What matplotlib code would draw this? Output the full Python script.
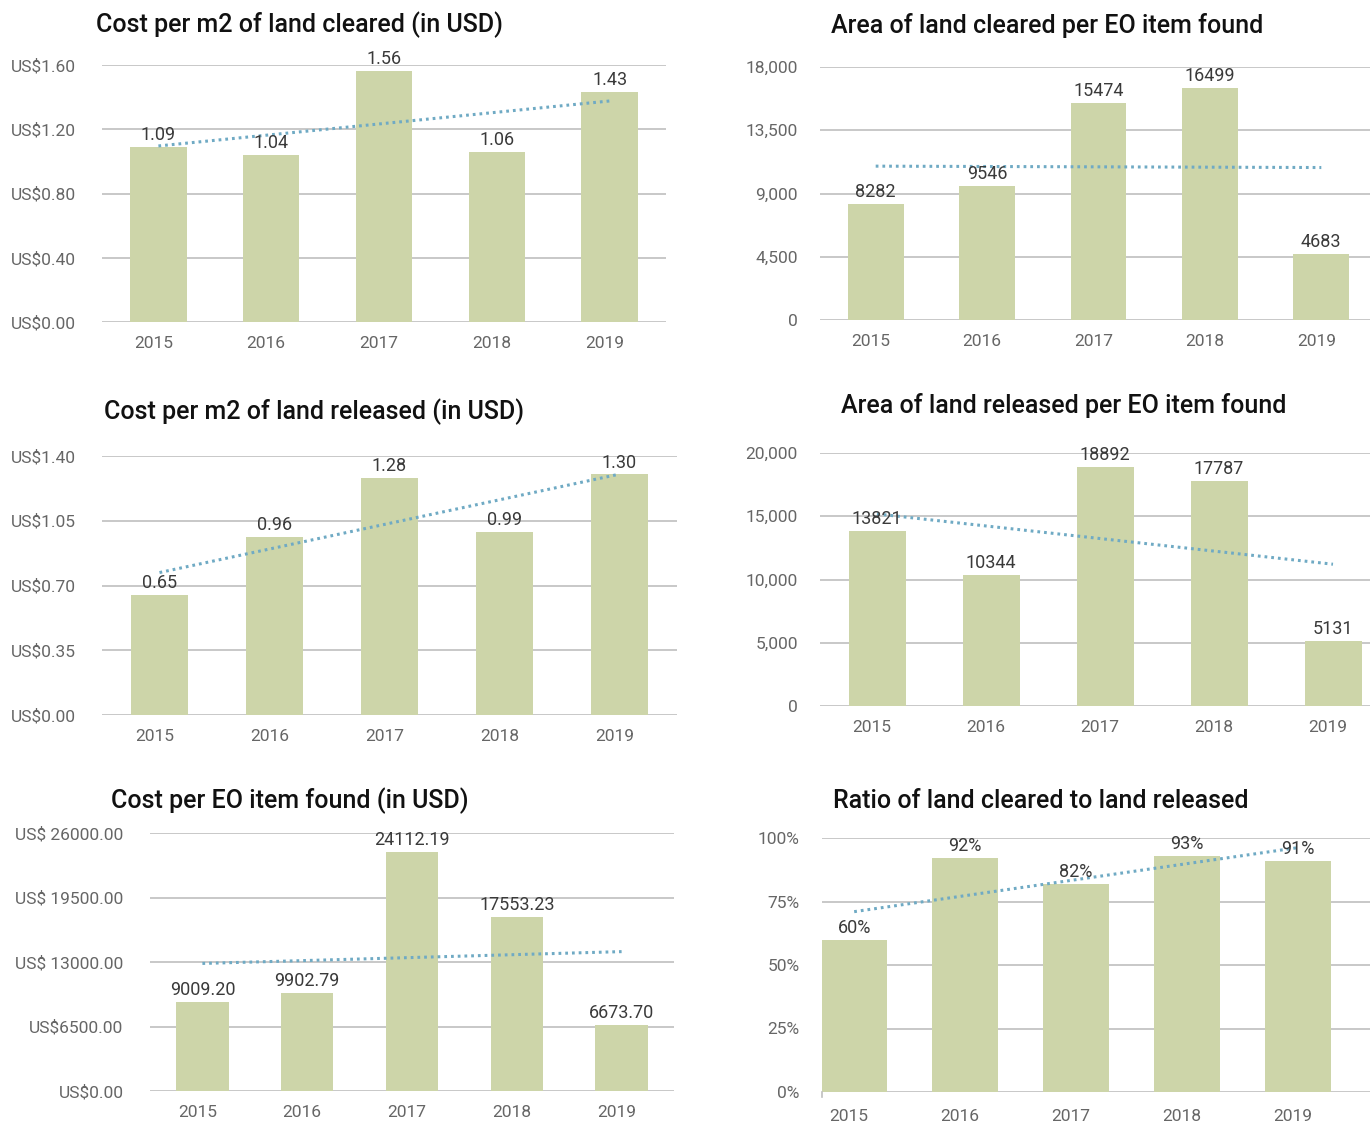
import numpy as np
import matplotlib
matplotlib.use("Agg")
import matplotlib.pyplot as plt

# data
years = ["2015", "2016", "2017", "2018", "2019"]
cost_m2_cleared = [1.09, 1.04, 1.56, 1.06, 1.43]
area_cleared_per_eo = [8282, 9546, 15474, 16499, 4683]
cost_m2_released = [0.65, 0.96, 1.28, 0.99, 1.30]
area_released_per_eo = [13821, 10344, 18892, 17787, 5131]
cost_per_eo = [9009.20, 9902.79, 24112.19, 17553.23, 6673.70]
ratio_cleared_released = [60, 92, 82, 93, 91]

ticks_cost_cleared = [0, 0.4, 0.8, 1.2, 1.6]
labels_cost_cleared = ["US$0.00", "US$0.40", "US$0.80", "US$1.20", "US$1.60"]
ticks_area_cleared = [0, 4500, 9000, 13500, 18000]
labels_area_cleared = ["0", "4,500", "9,000", "13,500", "18,000"]
ticks_cost_released = [0, 0.35, 0.70, 1.05, 1.40]
labels_cost_released = ["US$0.00", "US$0.35", "US$0.70", "US$1.05", "US$1.40"]
ticks_area_released = [0, 5000, 10000, 15000, 20000]
labels_area_released = ["0", "5,000", "10,000", "15,000", "20,000"]
ticks_cost_eo = [0, 6500, 13000, 19500, 26000]
labels_cost_eo = ["US$0.00", "US$6500.00", "US$ 13000.00", "US$ 19500.00", "US$ 26000.00"]
ticks_ratio = [0, 25, 50, 75, 100]
labels_ratio = ["0%", "25%", "50%", "75%", "100%"]

# styling
W, H = 1370, 1124
BAR = "#CDD5A9"
TREND = "#6FAAC4"
GRID = "#BFBFBF"
TICK_COL = "#666666"
VAL_COL = "#3A3A3A"
plt.rcParams["font.family"] = ["Roboto", "DejaVu Sans"]

fig = plt.figure(figsize=(W / 100, H / 100), dpi=100)


def panel(x0, x1, ytop, ybot, values, ticks, ticklabels, fmt, title, title_xy,
          width=0.5, xlim=(-0.5, 4.5), ypad=19, xpad=10):
    ax = fig.add_axes([x0 / W, 1 - ybot / H, (x1 - x0) / W, (ybot - ytop) / H])
    x = np.arange(len(values))
    ax.bar(x, values, width=width, color=BAR, zorder=2)
    # linear trend line across the years
    k, b = np.polyfit(x, values, 1)
    ax.plot(x, k * x + b, color=TREND, lw=2.2, ls=(0, (0.9, 1.3)), zorder=3)
    for xi, v in zip(x, values):
        ax.annotate(fmt(v), (xi, v), xytext=(0, 3), textcoords="offset pixels",
                    ha="center", va="bottom", fontsize=13, color=VAL_COL, zorder=4)
    ax.set_xlim(*xlim)
    ax.set_ylim(ticks[0], ticks[-1])
    ax.set_yticks(ticks)
    ax.set_yticklabels(ticklabels)
    # year labels sit ~5 px left of the bar centres
    nudge = 5 * (xlim[1] - xlim[0]) / (x1 - x0)
    ax.set_xticks(x - nudge)
    ax.set_xticklabels(years)
    ax.grid(axis="y", color=GRID, lw=1.2, zorder=0)
    ax.set_axisbelow(True)
    for s in ax.spines.values():
        s.set_visible(False)
    ax.tick_params(axis="y", length=0, pad=ypad, labelsize=12.5, labelcolor=TICK_COL)
    ax.tick_params(axis="x", length=0, pad=xpad, labelsize=12.5, labelcolor=TICK_COL)
    ax.patch.set_alpha(0)
    fig.text(title_xy[0] / W, 1 - title_xy[1] / H, title, ha="center", va="center",
             fontsize=18, fontweight="medium", color="#111111")
    return ax


panel(102, 666, 65, 322, cost_m2_cleared, ticks_cost_cleared, labels_cost_cleared,
      lambda v: f"{v:.2f}", "Cost per m2 of land cleared (in USD)", (300, 25))
panel(820, 1377, 67, 320, area_cleared_per_eo, ticks_area_cleared, labels_area_cleared,
      lambda v: f"{v:.0f}", "Area of land cleared per EO item found", (1047, 25),
      ypad=16)
panel(102, 677, 456, 715, cost_m2_released, ticks_cost_released, labels_cost_released,
      lambda v: f"{v:.2f}", "Cost per m2 of land released (in USD)", (314, 412))
panel(820, 1390, 453, 706, area_released_per_eo, ticks_area_released, labels_area_released,
      lambda v: f"{v:.0f}", "Area of land released per EO item found", (1064, 405),
      ypad=16)
panel(150, 674, 833, 1091, cost_per_eo, ticks_cost_eo, labels_cost_eo,
      lambda v: f"{v:.2f}", "Cost per EO item found (in USD)", (290, 801))
ax6 = panel(822, 1370, 838, 1092, ratio_cleared_released, ticks_ratio, labels_ratio,
            lambda v: f"{v:.0f}%", "Ratio of land cleared to land released", (1041, 801),
            width=0.59, xlim=(-0.29, 4.65), ypad=16, xpad=12)
ax6.plot([-0.29, -0.29], [0, -2], color=GRID, lw=1.2, clip_on=False)

fig.savefig("out.png", dpi=100, facecolor="white")
